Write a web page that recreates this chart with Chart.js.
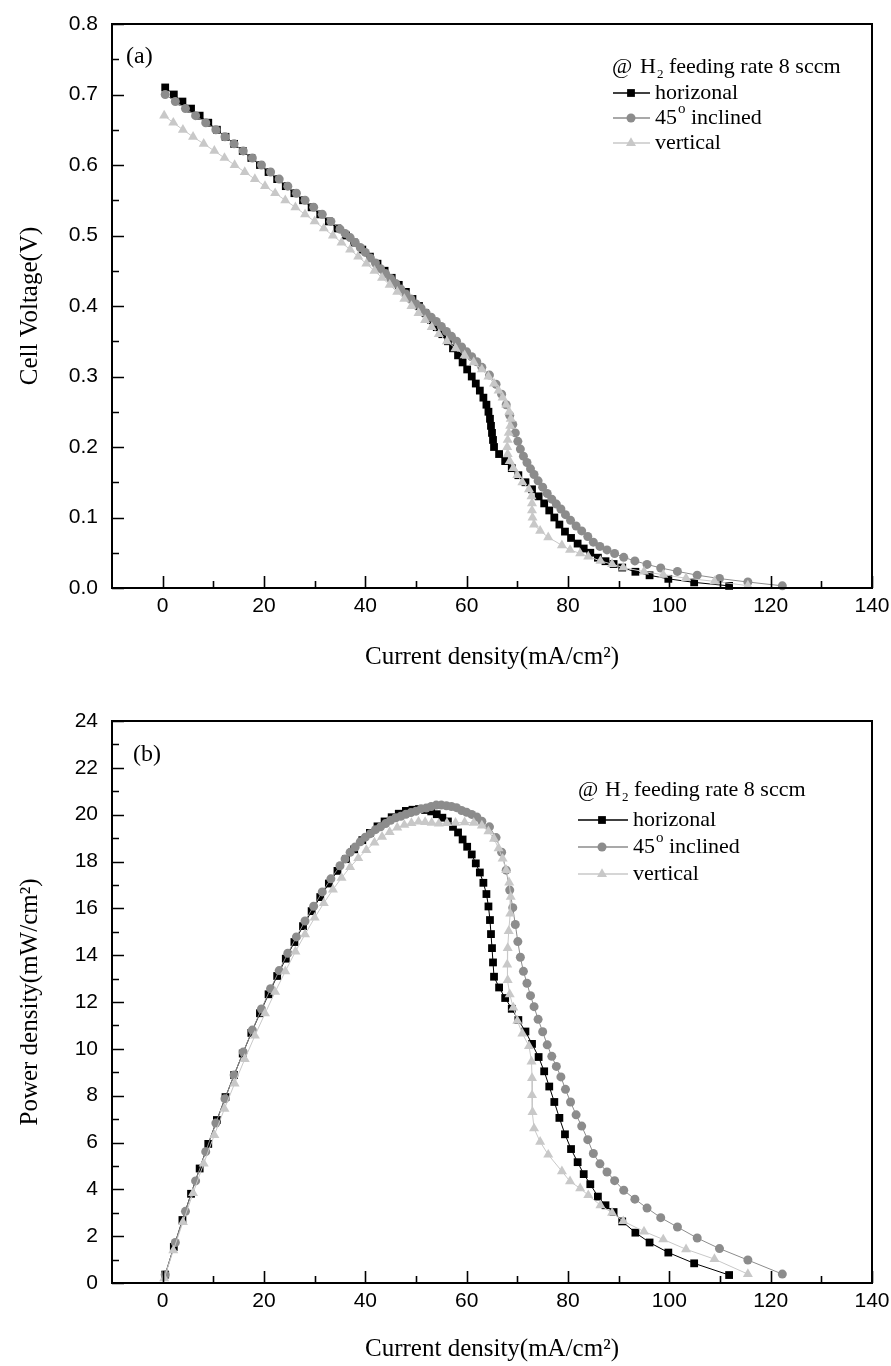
<!DOCTYPE html>
<html>
<head>
<meta charset="utf-8">
<script src="https://cdn.jsdelivr.net/npm/chart.js@4.4.1/dist/chart.umd.min.js"></script>
<style>
  body { margin: 0; background: #fff; }
  .panel { position: relative; width: 891px; height: 683px; }
</style>
</head>
<body>
<div class="panel"><canvas id="chartA" width="891" height="683"></canvas></div>
<div class="panel"><canvas id="chartB" width="891" height="683"></canvas></div>
<script>
// ---- data ----
var xTicks = [0, 20, 40, 60, 80, 100, 120, 140];
var voltageTicks = [0, 0.1, 0.2, 0.3, 0.4, 0.5, 0.6, 0.7, 0.8];
var powerTicks = [0, 2, 4, 6, 8, 10, 12, 14, 16, 18, 20, 22, 24];

// horizontal (black squares)
var horizCurrent = [0.5, 2.2, 3.9, 5.6, 7.3, 9.0, 10.7, 12.4, 14.1, 15.8, 17.5, 19.2, 20.9, 22.6, 24.3, 26.0, 27.7, 29.4, 31.1, 32.8,
  34.5, 36.2, 37.8, 39.4, 40.9, 42.4, 43.8, 45.2, 46.6, 48.0, 49.3, 50.6, 51.8, 53.0, 54.1, 55.2, 56.3, 57.3, 58.3, 59.2,
  60.1, 61.0, 61.8, 62.6, 63.3, 63.9, 64.3, 64.6, 64.8, 65.0, 65.2, 65.4, 66.4, 67.6, 68.9, 70.2, 71.6, 72.9, 74.2, 75.3,
  76.3, 77.3, 78.3, 79.4, 80.6, 81.9, 83.1, 84.4, 85.9, 87.4, 89.0, 90.7, 93.3, 96.1, 99.8, 104.9, 111.8];
var horizVoltage = [0.71, 0.70, 0.69, 0.68, 0.67, 0.66, 0.65, 0.64, 0.63, 0.62, 0.61, 0.60, 0.59, 0.58, 0.57, 0.56, 0.55, 0.54, 0.53, 0.52,
  0.51, 0.50, 0.49, 0.48, 0.47, 0.46, 0.45, 0.44, 0.43, 0.42, 0.41, 0.40, 0.39, 0.38, 0.37, 0.36, 0.35, 0.34, 0.33, 0.32,
  0.31, 0.30, 0.29, 0.28, 0.27, 0.26, 0.25, 0.24, 0.23, 0.22, 0.21, 0.20, 0.19, 0.18, 0.17, 0.16, 0.15, 0.14, 0.13, 0.12,
  0.11, 0.10, 0.09, 0.08, 0.071, 0.063, 0.056, 0.050, 0.043, 0.038, 0.034, 0.029, 0.023, 0.018, 0.013, 0.008, 0.003];
var horizPower = [0.36, 1.54, 2.69, 3.81, 4.89, 5.94, 6.96, 7.94, 8.88, 9.80, 10.68, 11.52, 12.33, 13.11, 13.85, 14.56, 15.24, 15.88, 16.48, 17.06,
  17.60, 18.10, 18.52, 18.91, 19.22, 19.50, 19.71, 19.89, 20.04, 20.16, 20.21, 20.24, 20.20, 20.14, 20.02, 19.87, 19.71, 19.48, 19.24, 18.94,
  18.63, 18.30, 17.92, 17.53, 17.09, 16.61, 16.08, 15.50, 14.90, 14.30, 13.69, 13.08, 12.62, 12.17, 11.71, 11.23, 10.74, 10.21, 9.65, 9.04,
  8.39, 7.73, 7.05, 6.35, 5.72, 5.16, 4.65, 4.22, 3.69, 3.32, 3.03, 2.63, 2.15, 1.73, 1.30, 0.84, 0.34];

// 45 degree inclined (grey circles)
var inclCurrent = [0.5, 2.5, 4.5, 6.5, 8.5, 10.5, 12.3, 14.1, 15.9, 17.7, 19.5, 21.3, 23.0, 24.7, 26.4, 28.1, 29.8, 31.5, 33.2,
  35, 36, 37, 38, 39, 40, 41, 42, 43, 44, 45, 46, 47, 48, 49, 50, 51, 52, 53, 54, 55, 56, 57, 58, 59, 60, 61, 62, 63,
  64.5, 65.8, 66.9, 67.8, 68.5, 69.1, 69.6, 70.1, 70.6, 71.2, 71.9, 72.6, 73.3, 74.1, 75.0, 75.9, 76.8, 77.7, 78.6, 79.5,
  80.5, 81.6, 82.7, 83.9, 85.0, 86.3, 87.7, 89.2, 91.0, 93.2, 95.6, 98.3, 101.6, 105.5, 109.9, 115.5, 122.3];
var inclVoltage = [0.700, 0.690, 0.680, 0.670, 0.660, 0.650, 0.640, 0.630, 0.620, 0.610, 0.600, 0.590, 0.580, 0.570, 0.560, 0.550, 0.540, 0.530, 0.520,
  0.509, 0.503, 0.497, 0.490, 0.483, 0.476, 0.468, 0.461, 0.453, 0.446, 0.439, 0.432, 0.424, 0.417, 0.410, 0.403, 0.397, 0.390, 0.384, 0.378,
  0.371, 0.364, 0.357, 0.350, 0.342, 0.335, 0.328, 0.321, 0.313,
  0.302, 0.289, 0.275, 0.260, 0.245, 0.232, 0.220, 0.208, 0.197, 0.187, 0.178, 0.169, 0.161, 0.152, 0.143, 0.134, 0.126, 0.119, 0.112, 0.104,
  0.096, 0.088, 0.081, 0.073, 0.065, 0.059, 0.054, 0.049, 0.0435, 0.0384, 0.0335, 0.0284, 0.0235, 0.0182, 0.0134, 0.0085, 0.0031];
var inclPower = [0.35, 1.73, 3.06, 4.36, 5.61, 6.83, 7.87, 8.88, 9.86, 10.80, 11.70, 12.57, 13.34, 14.08, 14.78, 15.46, 16.09, 16.70, 17.26,
  17.82, 18.11, 18.39, 18.62, 18.84, 19.04, 19.19, 19.36, 19.48, 19.62, 19.76, 19.87, 19.93, 20.02, 20.09, 20.15, 20.25, 20.28, 20.35, 20.41,
  20.41, 20.38, 20.35, 20.30, 20.18, 20.10, 20.01, 19.90, 19.72,
  19.48, 19.02, 18.40, 17.63, 16.78, 16.03, 15.31, 14.58, 13.91, 13.31, 12.80, 12.27, 11.80, 11.26, 10.73, 10.17, 9.68, 9.25, 8.80, 8.27,
  7.73, 7.18, 6.70, 6.12, 5.53, 5.09, 4.74, 4.37, 3.96, 3.58, 3.20, 2.79, 2.39, 1.92, 1.47, 0.98, 0.38];

// vertical (light grey triangles)
var vertCurrent = [0.3, 2.1, 4.0, 6.0, 8.1, 10.2, 12.2, 14.2, 16.2, 18.2, 20.2, 22.2, 24.2, 26.2, 28.1, 30.0, 31.8, 33.6, 35.3, 37.0,
  38.6, 40.2, 41.8, 43.3, 44.8, 46.3, 47.7, 49.1, 50.5, 51.8, 53.1, 54.5, 56.1, 57.8, 59.6, 61.4, 63.0, 64.3, 65.4, 66.3,
  67.1, 67.8, 68.4, 68.7, 68.6, 68.3, 68.1, 68.0, 68.1, 68.5, 69.2, 70.0, 71.0, 72.3, 72.8, 72.9, 72.9, 73.0, 73.3,
  74.5, 76.1, 78.8, 80.4, 82.4, 84.0, 86.4, 88.7, 90.9, 95.0, 98.8, 103.3, 108.9, 115.5];
var vertVoltage = [0.67, 0.66, 0.65, 0.64, 0.63, 0.62, 0.61, 0.60, 0.59, 0.58, 0.57, 0.56, 0.55, 0.54, 0.53, 0.52, 0.51, 0.50, 0.49, 0.48,
  0.47, 0.46, 0.45, 0.44, 0.43, 0.42, 0.41, 0.40, 0.39, 0.38, 0.37, 0.36, 0.35, 0.34, 0.33, 0.32, 0.31, 0.30, 0.29, 0.28,
  0.27, 0.26, 0.25, 0.24, 0.23, 0.22, 0.21, 0.20, 0.19, 0.18, 0.17, 0.16, 0.15, 0.14, 0.13, 0.12, 0.11, 0.10, 0.09,
  0.081, 0.072, 0.0605, 0.054, 0.049, 0.0446, 0.0384, 0.0338, 0.029, 0.0232, 0.0188, 0.0139, 0.0094, 0.0033];
var vertPower = [0.20, 1.39, 2.60, 3.84, 5.10, 6.32, 7.44, 8.52, 9.56, 10.56, 11.51, 12.43, 13.31, 14.15, 14.89, 15.60, 16.22, 16.80, 17.30, 17.76,
  18.14, 18.49, 18.81, 19.05, 19.26, 19.45, 19.56, 19.64, 19.70, 19.68, 19.65, 19.62, 19.64, 19.65, 19.67, 19.65, 19.53, 19.29, 18.97, 18.56,
  18.12, 17.63, 17.10, 16.49, 15.78, 15.03, 14.30, 13.60, 12.94, 12.33, 11.76, 11.20, 10.65, 10.12, 9.46, 8.75, 8.02, 7.30, 6.60,
  6.03, 5.48, 4.77, 4.34, 4.04, 3.75, 3.32, 3.00, 2.64, 2.20, 1.86, 1.44, 1.02, 0.38];

var seriesNames = ['horizonal', '45', 'vertical'];
var seriesColors = ['#000000', 'rgb(140,140,140)', 'rgb(200,200,200)'];
var seriesMarkers = ['rect', 'circle', 'triangle'];
var markerRadius = [5.5, 4.5, 5.8];

var serif = '"Liberation Serif", "Times New Roman", serif';
var sans = '"Liberation Sans", Arial, sans-serif';

function pairs(cur, val) {
  return cur.map(function(c, i) { return { x: c, y: val[i] }; });
}

// frame, inward ticks, panel letter and the in-plot legend
var framePlugin = {
  id: 'frame',
  afterDraw: function(chart, args, o) {
    var ctx = chart.ctx, a = chart.chartArea;
    var xs = chart.scales.x, ys = chart.scales.y;
    ctx.save();
    ctx.strokeStyle = '#000';
    ctx.lineWidth = 1.6;
    ctx.beginPath();
    xs.ticks.forEach(function(t, i) {
      var px = Math.round(xs.getPixelForValue(t.value)) + 0.5;
      ctx.moveTo(px, a.bottom); ctx.lineTo(px, a.bottom - 12);
      if (i > 0) {
        var m = Math.round(xs.getPixelForValue((t.value + xs.ticks[i - 1].value) / 2)) + 0.5;
        ctx.moveTo(m, a.bottom); ctx.lineTo(m, a.bottom - 7);
      }
    });
    ys.ticks.forEach(function(t, i) {
      var py = Math.round(ys.getPixelForValue(t.value)) + 0.5;
      ctx.moveTo(a.left, py); ctx.lineTo(a.left + 12, py);
      if (i > 0) {
        var m = Math.round(ys.getPixelForValue((t.value + ys.ticks[i - 1].value) / 2)) + 0.5;
        ctx.moveTo(a.left, m); ctx.lineTo(a.left + 7, m);
      }
    });
    ctx.stroke();
    ctx.lineWidth = 2;
    ctx.strokeRect(a.left, a.top, a.right - a.left, a.bottom - a.top);

    // panel letter
    ctx.fillStyle = '#000';
    ctx.textBaseline = 'middle';
    ctx.textAlign = 'left';
    ctx.font = '24px ' + serif;
    ctx.fillText(o.panel, o.panelX, o.panelY);

    // legend header: @ H2 feeding rate 8 sccm
    ctx.font = '22px ' + serif;
    var x = o.headX;
    ctx.fillText('@', x, o.headY);
    x = o.hX;
    ctx.fillText('H', x, o.headY);
    x += ctx.measureText('H').width;
    ctx.font = '13px ' + serif;
    ctx.fillText('2', x + 1, o.headY + 8);
    x += ctx.measureText('2').width + 1;
    ctx.font = '22px ' + serif;
    ctx.fillText(' feeding rate 8 sccm', x, o.headY);

    // legend rows
    for (var i = 0; i < 3; i++) {
      var y = o.rowY + i * o.rowGap;
      ctx.strokeStyle = seriesColors[i];
      ctx.fillStyle = seriesColors[i];
      ctx.lineWidth = 1.5;
      ctx.beginPath();
      ctx.moveTo(o.lineX0, y); ctx.lineTo(o.lineX1, y);
      ctx.stroke();
      Chart.helpers.drawPoint(ctx, { pointStyle: seriesMarkers[i], radius: markerRadius[i], rotation: 0, borderWidth: 0 }, o.markX, y);
      ctx.fillStyle = '#000';
      ctx.font = '22px ' + serif;
      if (i === 1) {
        var tx = o.textX;
        ctx.fillText('45', tx, y);
        tx += ctx.measureText('45').width;
        ctx.font = '15px ' + serif;
        ctx.fillText('o', tx + 1, y - 9);
        tx += ctx.measureText('o').width + 1;
        ctx.font = '22px ' + serif;
        ctx.fillText(' inclined', tx, y);
      } else {
        ctx.fillText(seriesNames[i], o.textX, y);
      }
    }
    ctx.restore();
  }
};

function makeChart(id, values, yTicks, yMax, yFmt, yTitle, pad, xAxisH, titleBottom, legendOpts) {
  var sets = [];
  for (var i = 0; i < 3; i++) {
    sets.push({
      label: seriesNames[i],
      data: pairs(values[i][0], values[i][1]),
      showLine: true,
      borderColor: seriesColors[i],
      backgroundColor: seriesColors[i],
      borderWidth: 1,
      pointStyle: seriesMarkers[i],
      pointRadius: markerRadius[i],
      pointBorderWidth: 0,
      pointBackgroundColor: seriesColors[i],
      tension: 0,
      clip: false,
      order: 3 - i
    });
  }
  return new Chart(document.getElementById(id).getContext('2d'), {
    type: 'scatter',
    data: { datasets: sets },
    options: {
      responsive: false,
      animation: false,
      layout: { padding: pad },
      plugins: { legend: { display: false }, tooltip: { enabled: false }, frame: legendOpts },
      scales: {
        x: {
          type: 'linear', min: -10, max: 140,
          afterBuildTicks: function(s) { s.ticks = xTicks.map(function(v) { return { value: v }; }); },
          afterFit: function(s) { s.height = xAxisH; s.paddingLeft = 0; s.paddingRight = 0; },
          grid: { display: false, drawTicks: false },
          border: { display: false },
          ticks: { color: '#000', font: { family: sans, size: 21 }, padding: 6, maxRotation: 0, autoSkip: false },
          title: { display: true, text: 'Current density(mA/cm²)', color: '#000', font: { family: serif, size: 25 }, padding: { top: 0, bottom: titleBottom } }
        },
        y: {
          type: 'linear', min: 0, max: yMax,
          afterBuildTicks: function(s) { s.ticks = yTicks.map(function(v) { return { value: v }; }); },
          afterFit: function(s) { s.width = 112; s.paddingTop = 0; s.paddingBottom = 0; },
          grid: { display: false, drawTicks: false },
          border: { display: false },
          ticks: { color: '#000', font: { family: sans, size: 21 }, padding: 14, autoSkip: false, callback: yFmt },
          title: { display: true, text: yTitle, color: '#000', font: { family: serif, size: 25 }, padding: { top: 15, bottom: 0 } }
        }
      }
    },
    plugins: [framePlugin]
  });
}

makeChart('chartA',
  [[horizCurrent, horizVoltage], [inclCurrent, inclVoltage], [vertCurrent, vertVoltage]],
  voltageTicks, 0.8, function(v) { return v.toFixed(1); }, 'Cell Voltage(V)',
  { top: 24, right: 19, bottom: 0, left: 0 }, 95, 11,
  { panel: '(a)', panelX: 126, panelY: 57, headX: 612, hX: 640, headY: 67, rowY: 93, rowGap: 25,
    lineX0: 613, lineX1: 650, markX: 631, textX: 655 });

makeChart('chartB',
  [[horizCurrent, horizPower], [inclCurrent, inclPower], [vertCurrent, vertPower]],
  powerTicks, 24, function(v) { return String(v); }, 'Power density(mW/cm²)',
  { top: 38, right: 19, bottom: 0, left: 0 }, 83, 2,
  { panel: '(b)', panelX: 133, panelY: 72, headX: 578, hX: 605, headY: 107, rowY: 137, rowGap: 27,
    lineX0: 578, lineX1: 628, markX: 602, textX: 633 });
</script>
</body>
</html>
